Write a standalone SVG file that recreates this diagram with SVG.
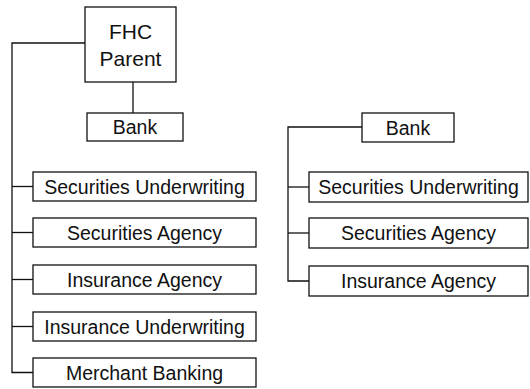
<svg xmlns="http://www.w3.org/2000/svg" width="530" height="389" viewBox="0 0 530 389">
<style>
.box{fill:#fff;stroke:#111;stroke-width:1.3}
.t{font-family:"Liberation Sans",Arial,sans-serif;font-size:19.5px;fill:#111;text-anchor:middle}
.big{font-size:21px}
.c{fill:none;stroke:#111;stroke-width:1.3}
</style>
<rect width="530" height="389" fill="#fff"/>
<g id="connectors">
<polyline class="c" points="85,43 12,43 12,372.5 33,372.5"/>
<line class="c" x1="133" y1="82" x2="133" y2="113"/>
<line class="c" x1="12" y1="186.5" x2="33" y2="186.5"/>
<line class="c" x1="12" y1="232.5" x2="33" y2="232.5"/>
<line class="c" x1="12" y1="279.5" x2="33" y2="279.5"/>
<line class="c" x1="12" y1="326.5" x2="33" y2="326.5"/>
<polyline class="c" points="362,127 288,127 288,281 309,281"/>
<line class="c" x1="288" y1="187" x2="309" y2="187"/>
<line class="c" x1="288" y1="233" x2="309" y2="233"/>
</g>
<g id="fhc-parent">
<rect class="box" x="85" y="7" width="91" height="75"/>
<text class="t big" x="130.5" y="39">FHC</text>
<text class="t big" x="130.5" y="66">Parent</text>
</g>
<g id="bank-left">
<rect class="box" x="87" y="113" width="96" height="28"/>
<text class="t" x="135" y="134">Bank</text>
</g>
<g id="sec-underwriting-left">
<rect class="box" x="33" y="172" width="223" height="29"/>
<text class="t" x="144.5" y="193.5">Securities Underwriting</text>
</g>
<g id="sec-agency-left">
<rect class="box" x="33" y="218" width="223" height="29"/>
<text class="t" x="144.5" y="239.5">Securities Agency</text>
</g>
<g id="ins-agency-left">
<rect class="box" x="33" y="265" width="223" height="29"/>
<text class="t" x="144.5" y="286.5">Insurance Agency</text>
</g>
<g id="ins-underwriting-left">
<rect class="box" x="33" y="312" width="223" height="29"/>
<text class="t" x="144.5" y="333.5">Insurance Underwriting</text>
</g>
<g id="merchant-banking-left">
<rect class="box" x="33" y="358" width="223" height="29"/>
<text class="t" x="144.5" y="379.5">Merchant Banking</text>
</g>
<g id="bank-right">
<rect class="box" x="362" y="113" width="92" height="29"/>
<text class="t" x="408" y="134.5">Bank</text>
</g>
<g id="sec-underwriting-right">
<rect class="box" x="309" y="172" width="219" height="30"/>
<text class="t" x="418.5" y="194">Securities Underwriting</text>
</g>
<g id="sec-agency-right">
<rect class="box" x="309" y="218" width="219" height="30"/>
<text class="t" x="418.5" y="240">Securities Agency</text>
</g>
<g id="ins-agency-right">
<rect class="box" x="309" y="266" width="219" height="30"/>
<text class="t" x="418.5" y="288">Insurance Agency</text>
</g>
</svg>
